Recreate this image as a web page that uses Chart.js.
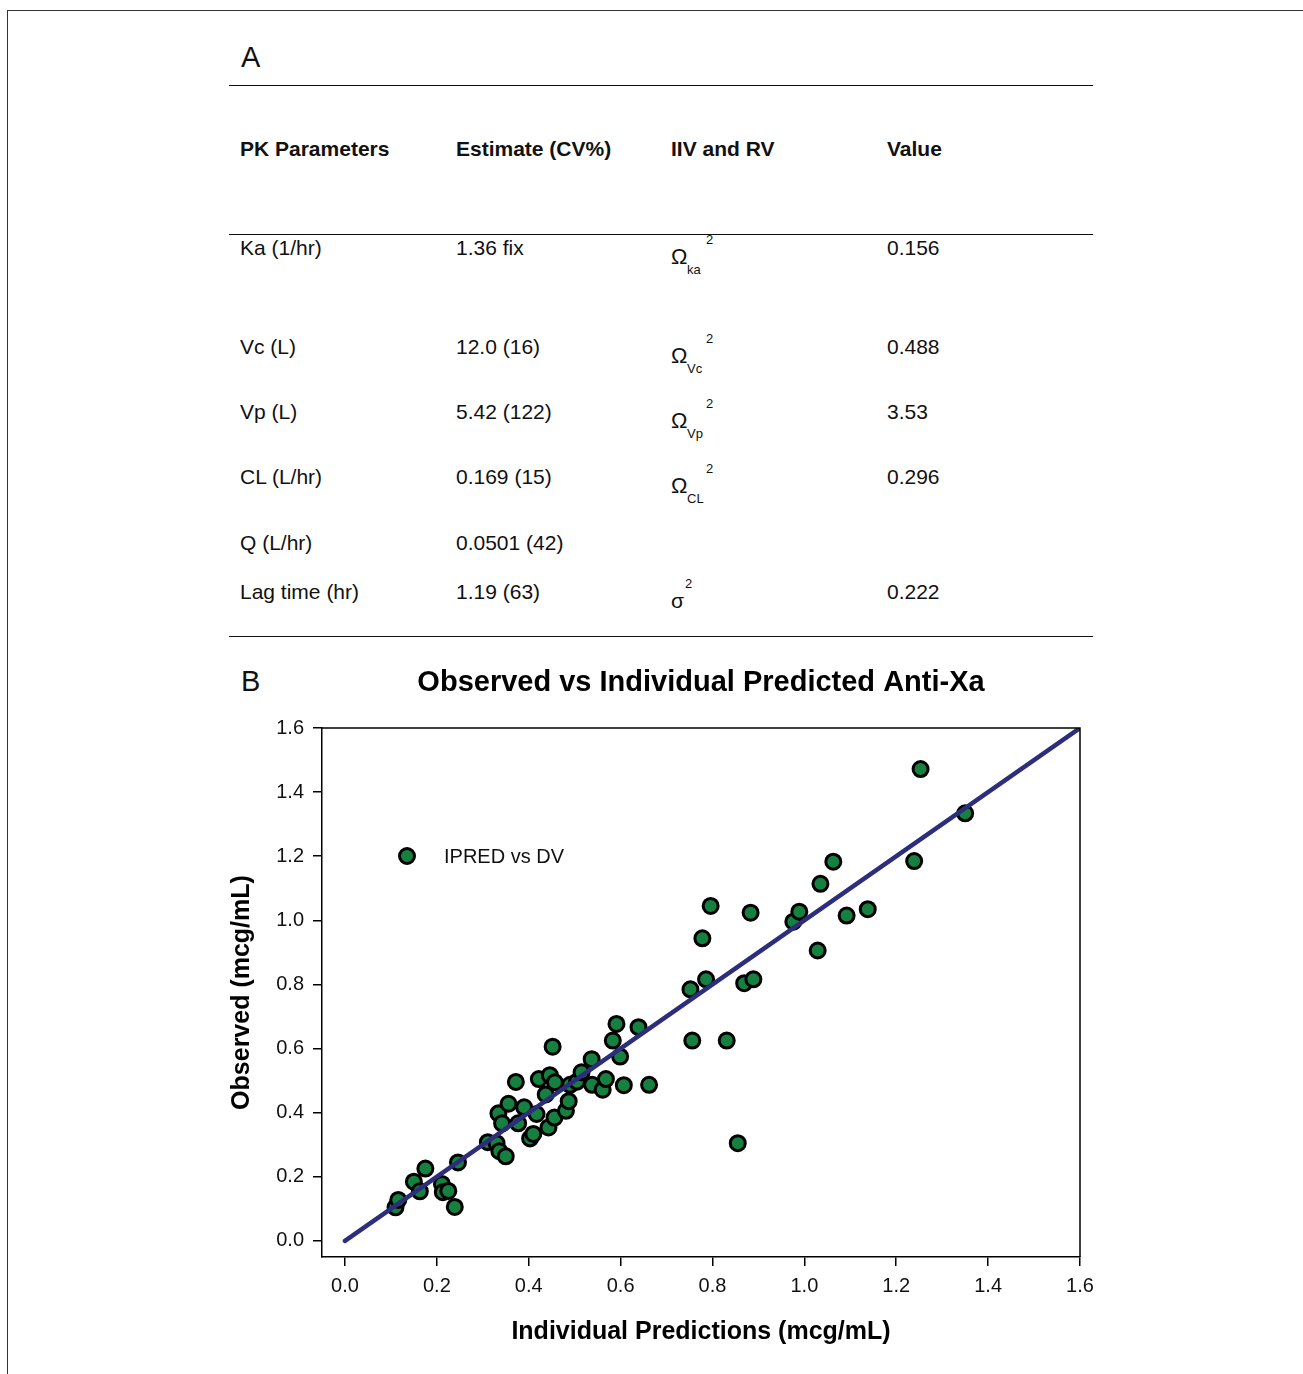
<!DOCTYPE html>
<html>
<head>
<meta charset="utf-8">
<title>PK parameters and observed vs IPRED</title>
<script src="https://cdn.jsdelivr.net/npm/chart.js@4.4.0/dist/chart.umd.min.js"></script>
<style>
  body { margin: 0; width: 1303px; height: 1374px; position: relative; background: #fff;
         font-family: "Liberation Sans", Arial, sans-serif; color: #111; overflow: hidden; }
  .t { position: absolute; white-space: nowrap; }
  .hr { position: absolute; left: 229px; width: 864px; height: 0; border-top: 1.5px solid #111; }
  #chartBox { position: absolute; left: 0; top: 640px; width: 1303px; height: 734px; }
</style>
</head>
<body>
<div style="position:absolute;left:7px;top:10px;width:1300px;height:1380px;border-left:1.5px solid #333;border-top:1.5px solid #333;"></div>
<div class="t" style="left:241px;top:40px;font-size:29px;line-height:34px;">A</div>
<div class="hr" style="top:85px"></div>
<div class="hr" style="top:234px"></div>
<div class="hr" style="top:636px"></div>
<div id="table"></div>
<div class="t" style="left:241px;top:664px;font-size:29px;line-height:34px;">B</div>
<div id="chartBox"><canvas id="chart" width="1303" height="734"></canvas></div>

<script>
// Tabela A
const headers = ['PK Parameters', 'Estimate (CV%)', 'IIV and RV', 'Value'];
const paramNames = ['Ka (1/hr)', 'Vc (L)', 'Vp (L)', 'CL (L/hr)', 'Q (L/hr)', 'Lag time (hr)'];
const estimates = ['1.36 fix', '12.0 (16)', '5.42 (122)', '0.169 (15)', '0.0501 (42)', '1.19 (63)'];
const varSymbols = ['Ω', 'Ω', 'Ω', 'Ω', '', 'σ'];
const varSubs = ['ka', 'Vc', 'Vp', 'CL', '', ''];
const varValues = ['0.156', '0.488', '3.53', '0.296', '', '0.222'];

// Gráfico B
const ipred = [0.110, 0.116, 0.150, 0.175, 0.163, 0.211, 0.213, 0.225, 0.239, 0.246,
               0.311, 0.330, 0.336, 0.350, 0.334, 0.342, 0.356, 0.372, 0.377, 0.390,
               0.403, 0.410, 0.417, 0.422, 0.437, 0.443, 0.446, 0.456, 0.457, 0.452,
               0.481, 0.487, 0.490, 0.505, 0.515, 0.537, 0.538, 0.561, 0.568, 0.583,
               0.591, 0.599, 0.607, 0.639, 0.662,
               0.752, 0.756, 0.778, 0.786, 0.796, 0.831, 0.855, 0.869, 0.883, 0.889,
               0.976, 0.989, 1.029, 1.035, 1.063, 1.092, 1.138, 1.239, 1.253, 1.350];
const dv = [0.105, 0.128, 0.185, 0.226, 0.155, 0.178, 0.152, 0.156, 0.106, 0.245,
            0.308, 0.305, 0.280, 0.264, 0.398, 0.367, 0.428, 0.496, 0.367, 0.417,
            0.320, 0.334, 0.396, 0.505, 0.457, 0.354, 0.517, 0.385, 0.495, 0.606,
            0.406, 0.436, 0.487, 0.497, 0.526, 0.567, 0.487, 0.472, 0.505, 0.625,
            0.677, 0.575, 0.486, 0.667, 0.487,
            0.785, 0.625, 0.944, 0.816, 1.045, 0.625, 0.305, 0.804, 1.024, 0.816,
            0.996, 1.027, 0.906, 1.114, 1.183, 1.015, 1.035, 1.185, 1.472, 1.334];
const lineX = [0, 1.6];
const lineY = [0, 1.6];
const tickValues = [0, 0.2, 0.4, 0.6, 0.8, 1.0, 1.2, 1.4, 1.6];

const FONT = '"Liberation Sans", Arial, sans-serif';

// monta a tabela
(function buildTable() {
    const box = document.getElementById('table');
    const colX = [240, 456, 671, 887];
    const rowY = [248, 347, 412, 477, 543, 592];
    function put(txt, x, cy, size, bold) {
        const d = document.createElement('div');
        d.className = 't';
        d.textContent = txt;
        d.style.left = x + 'px';
        d.style.top = (cy - size * 0.6) + 'px';
        d.style.fontSize = size + 'px';
        d.style.lineHeight = (size * 1.2) + 'px';
        if (bold) d.style.fontWeight = 'bold';
        box.appendChild(d);
    }
    headers.forEach((h, i) => put(h, colX[i], 149, 21, true));
    paramNames.forEach((p, i) => {
        const y = rowY[i];
        put(p, colX[0], y, 21);
        put(estimates[i], colX[1], y, 21);
        if (varSymbols[i] === 'Ω') {
            put('Ω', colX[2], y + 9, 22);
            put(varSubs[i], colX[2] + 16, y + 22, 13);
            put('2', colX[2] + 35, y - 8, 13);
        } else if (varSymbols[i] === 'σ') {
            put('σ', colX[2], y + 9, 21);
            put('2', colX[2] + 14, y - 8, 13);
        }
        if (varValues[i]) put(varValues[i], colX[3], y, 21);
    });
})();

// moldura superior e direita
const framePlugin = {
    id: 'frame',
    afterDraw(chart) {
        const a = chart.chartArea, ctx = chart.ctx;
        ctx.save();
        ctx.strokeStyle = '#000';
        ctx.lineWidth = 1.5;
        ctx.beginPath();
        ctx.moveTo(a.left, a.top);
        ctx.lineTo(a.right, a.top);
        ctx.lineTo(a.right, a.bottom);
        ctx.stroke();
        ctx.restore();
    }
};

// legenda dentro da área
const legendPlugin = {
    id: 'insideLegend',
    afterDraw(chart) {
        const a = chart.chartArea, ctx = chart.ctx;
        const ds = chart.data.datasets[1];
        const x = a.left + 85, y = a.top + 128;
        ctx.save();
        ctx.beginPath();
        ctx.arc(x, y, ds.pointRadius, 0, Math.PI * 2);
        ctx.fillStyle = ds.backgroundColor;
        ctx.fill();
        ctx.lineWidth = ds.borderWidth;
        ctx.strokeStyle = ds.borderColor;
        ctx.stroke();
        ctx.fillStyle = '#111';
        ctx.font = '20px ' + FONT;
        ctx.textBaseline = 'middle';
        ctx.fillText(ds.label, a.left + 122, y + 1);
        ctx.restore();
    }
};

function setTicks(axis) {
    axis.ticks = tickValues.map(v => ({ value: v }));
}

const tickOpts = { color: '#111', font: { family: FONT, size: 20 }, padding: 8,
                   callback: v => Number(v).toFixed(1) };
const gridOpts = { drawOnChartArea: false, drawTicks: true, tickLength: 9, color: '#000', lineWidth: 1.5 };
const borderOpts = { display: true, color: '#000', width: 1.5 };

new Chart(document.getElementById('chart'), {
    type: 'scatter',
    data: {
        datasets: [{
            type: 'line',
            label: 'Identity',
            data: lineX.map((x, i) => ({ x: x, y: lineY[i] })),
            borderColor: '#2c2e7c',
            borderWidth: 4.5,
            borderCapStyle: 'round',
            pointRadius: 0,
            fill: false,
            order: 0
        }, {
            label: 'IPRED vs DV',
            data: ipred.map((x, i) => ({ x: x, y: dv[i] })),
            backgroundColor: '#15803f',
            borderColor: '#000',
            borderWidth: 3,
            pointRadius: 7.5,
            order: 1
        }]
    },
    options: {
        responsive: false,
        animation: false,
        devicePixelRatio: 1,
        layout: { padding: { top: 0, right: 223, bottom: 0, left: 0 } },
        plugins: {
            legend: { display: false },
            tooltip: { enabled: false },
            title: {
                display: true,
                text: 'Observed vs Individual Predicted Anti-Xa',
                fullSize: false,
                color: '#000',
                font: { family: FONT, size: 29, weight: 'bold' },
                padding: { top: 25.6, bottom: 27.6 }
            }
        },
        scales: {
            x: {
                type: 'linear', min: -0.05, max: 1.6,
                afterBuildTicks: setTicks,
                afterFit: s => { s.height = 117; },
                grid: gridOpts, border: borderOpts, ticks: tickOpts,
                title: { display: true, text: 'Individual Predictions (mcg/mL)', color: '#000',
                         font: { family: FONT, size: 25, weight: 'bold' }, padding: { top: 0, bottom: 27 } }
            },
            y: {
                type: 'linear', min: -0.05, max: 1.6,
                afterBuildTicks: setTicks,
                afterFit: s => { s.width = 322; },
                grid: gridOpts, border: borderOpts, ticks: Object.assign({}, tickOpts, { padding: 9 }),
                title: { display: true, text: 'Observed (mcg/mL)', color: '#000',
                         font: { family: FONT, size: 25, weight: 'bold' }, padding: { top: 227, bottom: 0 } }
            }
        }
    },
    plugins: [framePlugin, legendPlugin]
});
</script>
</body>
</html>
